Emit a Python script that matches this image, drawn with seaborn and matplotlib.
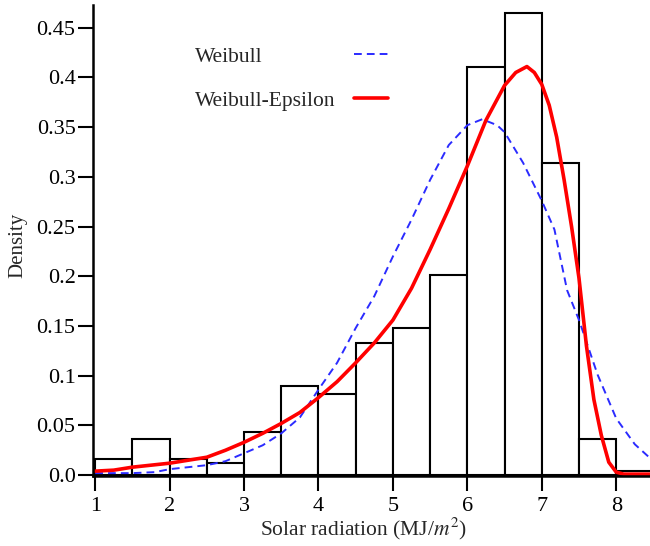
import numpy as np
import pandas as pd
import seaborn as sns
import matplotlib.pyplot as plt

# histogram: bin edges and density per bin
bin_edges = [1.0, 1.5, 2.0, 2.5, 3.0, 3.5, 4.0, 4.5, 5.0, 5.5, 6.0, 6.5, 7.0, 7.5, 8.0, 8.5]
bin_density = [0.016, 0.036, 0.016, 0.012, 0.043, 0.090, 0.082, 0.133, 0.148,
               0.201, 0.411, 0.465, 0.314, 0.036, 0.004]

# fitted Weibull curve
weibull_x = [1.0, 1.5, 1.8, 2.0, 2.25, 2.5, 2.75, 3.0, 3.25, 3.5, 3.75, 4.0, 4.25, 4.5,
             4.75, 5.0, 5.25, 5.5, 5.75, 6.0, 6.2, 6.4, 6.5, 6.75, 7.0, 7.17, 7.34,
             7.5, 7.75, 8.0, 8.25, 8.5]
weibull_y = [0.002, 0.002, 0.003, 0.006, 0.008, 0.010, 0.014, 0.022, 0.030, 0.042, 0.058,
             0.086, 0.113, 0.148, 0.180, 0.220, 0.257, 0.297, 0.332, 0.352, 0.358, 0.352,
             0.345, 0.314, 0.276, 0.247, 0.186, 0.156, 0.101, 0.057, 0.031, 0.014]

# fitted Weibull-Epsilon curve
wepsilon_x = [1.0, 1.25, 1.5, 1.75, 2.0, 2.25, 2.5, 2.75, 3.0, 3.25, 3.5, 3.75, 4.0, 4.25,
              4.5, 4.75, 5.0, 5.25, 5.5, 5.75, 6.0, 6.25, 6.5, 6.65, 6.8, 6.9, 7.0, 7.1,
              7.2, 7.3, 7.4, 7.5, 7.6, 7.7, 7.8, 7.9, 8.0, 8.1, 8.5]
wepsilon_y = [0.004, 0.005, 0.008, 0.010, 0.012, 0.015, 0.018, 0.025, 0.033, 0.042, 0.052,
              0.063, 0.078, 0.094, 0.113, 0.133, 0.156, 0.188, 0.227, 0.268, 0.311, 0.357,
              0.392, 0.405, 0.411, 0.405, 0.393, 0.372, 0.340, 0.297, 0.250, 0.198, 0.130,
              0.076, 0.040, 0.013, 0.003, 0.001, 0.001]

x_ticks = [1, 2, 3, 4, 5, 6, 7, 8]
y_ticks = [0.0, 0.05, 0.1, 0.15, 0.2, 0.25, 0.3, 0.35, 0.4, 0.45]
y_ticklabels = ['0.0', '0.05', '0.1', '0.15', '0.2', '0.25', '0.3', '0.35', '0.4', '0.45']

sns.set_theme(style='ticks')
plt.rcParams['font.family'] = ['Liberation Serif', 'DejaVu Serif']
plt.rcParams['mathtext.fontset'] = 'stix'

centers = [(a + b) / 2 for a, b in zip(bin_edges[:-1], bin_edges[1:])]
df_hist = pd.DataFrame({'x': centers, 'w': bin_density})

fig = plt.figure(figsize=(6.5, 5.46), dpi=100)
ax = fig.add_axes([0.143, 0.128, 0.86, 0.863])

sns.histplot(data=df_hist, x='x', weights='w', bins=bin_edges, stat='count',
             color='white', edgecolor='black', linewidth=1.5, alpha=1, ax=ax)
sns.lineplot(x=weibull_x, y=weibull_y, color='#2b2bff', linewidth=1.4,
             dashes=False, ax=ax, label='Weibull')
ax.lines[-1].set_dashes([4, 2.6])
sns.lineplot(x=wepsilon_x, y=wepsilon_y, color='#ff0000', linewidth=2.6,
             ax=ax, label='Weibull-Epsilon')

ax.set_xlim(0.97, 8.48)
ax.set_ylim(-0.001, 0.473)
ax.set_xticks(x_ticks)
ax.set_yticks(y_ticks)
ax.set_yticklabels(y_ticklabels)
ax.tick_params(axis='both', direction='out', length=11, width=1.5, labelsize=16,
               colors='black')
ax.tick_params(axis='y', pad=1.5)
ax.tick_params(axis='x', pad=4)
ax.set_xlabel('Solar radiation (MJ/$m^2$)', fontsize=15.5, labelpad=0)
ax.set_ylabel('Density', fontsize=15, labelpad=0)
ax.yaxis.set_label_coords(-0.118, 0.49)
ax.xaxis.set_label_coords(0.484, -0.085)
sns.despine(ax=ax)
for s in ['left', 'bottom']:
    ax.spines[s].set_linewidth(1.8)
    ax.spines[s].set_color('black')

leg = ax.legend(loc='upper left', bbox_to_anchor=(0.284, 0.934), bbox_transform=fig.transFigure,
                frameon=False, markerfirst=False, fontsize=15.5, handlelength=1.6,
                handletextpad=0.6, labelspacing=1.1, borderpad=0)
# left-align the labels and keep the line samples in one column on the right
col = leg._legend_handle_box.get_children()[0]
col.align = 'left'
col.width = 193
for row in col.get_children():
    row.mode = 'expand'

fig.savefig('out.png', dpi=100)
